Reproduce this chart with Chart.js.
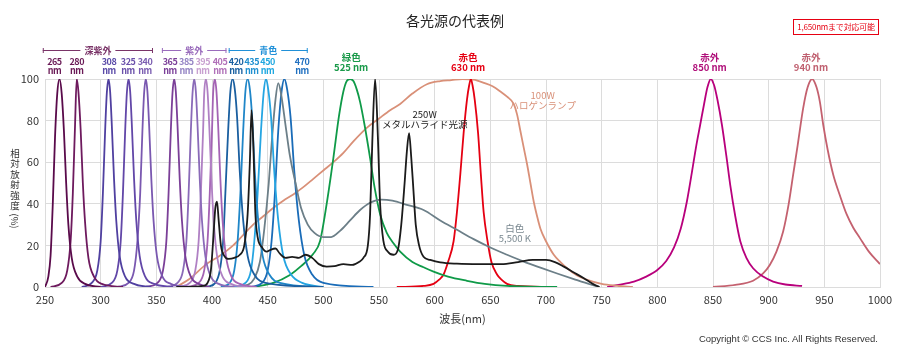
<!DOCTYPE html>
<html lang="ja">
<head>
<meta charset="utf-8">
<title>各光源の代表例</title>
<script src="https://cdn.jsdelivr.net/npm/chart.js@4.4.1/dist/chart.umd.min.js"></script>
<style>
  html, body { margin: 0; padding: 0; background: #fff; }
  #wrap { position: relative; width: 910px; height: 359px; font-family: "Noto Sans CJK JP", "Noto Sans", sans-serif; }
  #title { position: absolute; left: 0; top: 10px; width: 910px; text-align: center; font-size: 14px; color: #222; }
  #badge { position: absolute; left: 793px; top: 19px; width: 86px; height: 16px; box-sizing: border-box; white-space: nowrap;
           border: 1px solid #e60012; color: #e60012; font-size: 8px; line-height: 14px; text-align: center; letter-spacing: -0.2px; }
  #copy { position: absolute; right: 32px; top: 333px; font-family: "Liberation Sans", Arial, sans-serif; font-size: 9.5px; color: #333; }
  canvas { position: absolute; left: 0; top: 0; }
</style>
</head>
<body>
<div id="wrap">
  <canvas id="spectra" width="910" height="359"></canvas>
  <div id="title">各光源の代表例</div>
  <div id="badge">1,650nmまで対応可能</div>
  <div id="copy">Copyright © CCS Inc. All Rights Reserved.</div>
</div>
<script>
// spectra: [wavelength nm, relative intensity %]
const uv265 = [[250,0],[253,5],[255,15],[257,40],[259,72],[261,93],[263,100],[265,93],[267,75],[269,50],[271,30],[274,14],[279,5],[286,1.5],[300,0]];
const uv280 = [[255,0],[265,2],[270,8],[273,22],[275,45],[277,78],[278.5,100],[280,94],[282,76],[284,50],[286,31],[289,14],[294,5],[301,1.5],[320,0]];
const uv308 = [[283,0],[292,2],[297,8],[300,22],[302,45],[304,75],[305.5,93],[307,100],[308.5,94],[310,78],[312,52],[314,32],[317,15],[322,5],[330,1.5],[345,0]];
const uv325 = [[300,0],[310,2],[315,8],[318,22],[320,45],[322,75],[323.5,93],[325,100],[326.5,94],[328,78],[330,52],[332,32],[335,15],[340,5],[348,1.5],[365,0]];
const uv340 = [[315,0],[325,2],[330,8],[333,22],[335.5,45],[337.5,75],[339,93],[340.5,100],[342,94],[343.5,78],[345.5,52],[347.5,32],[350.5,15],[355.5,5],[363,1.5],[380,0]];
const uv365 = [[340,0],[351,2],[356,8],[359,22],[361,45],[363,75],[364.5,93],[366,100],[367.5,94],[369,78],[371,52],[373,32],[376,15],[381,5],[388,1.5],[398,0]];
const uv385 = [[360,0],[369,2],[374,8],[377,22],[379,45],[381,75],[382.5,93],[384,100],[385.5,94],[387,78],[389,52],[391,32],[394,15],[399,5],[406,1.5],[420,0]];
const uv395 = [[370,0],[380,2],[385,8],[388,22],[390,45],[392,75],[393,93],[394.5,100],[396,94],[397.5,78],[399.5,52],[401.5,32],[404.5,15],[409.5,5],[417,1.5],[430,0]];
const uv405 = [[378,0],[388,2],[393,8],[396,22],[398,45],[400,75],[401,93],[402.5,100],[404,94],[405.5,78],[407.5,52],[409.5,32],[412.5,15],[417.5,5],[425,1.5],[440,0]];
const blue420 = [[395,0],[403,2],[407,8],[410,22],[412,45],[414.5,75],[416.5,94],[418.5,100],[420.5,95],[422.5,82],[425,55],[428,32],[432,15],[438,6],[448,2],[500,0]];
const blue435 = [[408,0],[416,2],[420,8],[423,22],[425.5,45],[428,75],[430,94],[432,100],[434,95],[436,82],[438.5,55],[441.5,32],[445.5,15],[451.5,6],[461,2],[500,0]];
const blue450 = [[420,0],[430,2],[435,8],[438,22],[441,45],[444,75],[446.5,94],[448.5,100],[450.5,95],[453,82],[456,55],[459.5,32],[464,15],[471,6],[481,2],[500,0]];
const blue470 = [[435,0],[445,2],[450,8],[453.5,22],[456.5,45],[459.5,75],[462.5,94],[465,100],[467.5,95],[470.5,82],[474,55],[478,32],[483,15],[490,6],[500,2],[545,0]];
const white5500 = [[420,0],[432,1],[438,4],[443,12],[447,28],[451,50],[454,72],[457,90],[459.5,98],[462,93],[466,78],[470,63],[475,50],[480,38],[486,30],[492,26],[500,24],[507,24],[515,27],[524,32],[533,37],[542,40.5],[552,42],[562,41.5],[575,39.5],[590,37],[605,32],[620,27.5],[635,23],[650,19],[665,15.5],[680,12.2],[695,9.3],[710,6.5],[725,3.8],[740,1.2],[748,0]];
const metalHalide = [[368,0],[392,0.5],[396,2],[399,8],[401,22],[403,38],[404.5,41],[406,32],[408,20],[411,15],[415,13.5],[420,14],[425,15.5],[429,20],[432,35],[434,60],[435.5,85],[437,70],[439,35],[441,24],[445,19],[449,17],[453,18],[457,18.5],[461,16],[466,14],[472,14.5],[478,14],[484,15.5],[490,14],[496,11],[503,9.8],[510,10],[518,11],[526,10.6],[532,12],[536,14],[540,20],[542,35],[544,70],[546.5,100],[549,72],[551,40],[554,22],[558,17],[563,15.5],[567,18],[570,30],[573,50],[575,65],[577,74],[579,62],[581,46],[583,30],[586,20],[590,14.5],[596,13],[605,11.8],[620,11.2],[640,11],[660,11],[675,12],[688,13],[700,13],[708,12],[716,9.8],[725,7],[734,4.2],[742,1.5],[748,0]];
const halogen = [[368,0],[380,4],[395,11],[407,15],[419,20],[428,25],[437,30],[446,34],[455,38],[464,41.5],[473,44.5],[482,48],[491,52],[500,56],[509,60],[518,64.5],[527,70],[539,76.5],[550,81],[560,85],[569,88],[580,93],[593,97.5],[605,99],[615,99.5],[625,100],[635,99.7],[645,98],[652,96.5],[659,94],[665,91.5],[671,88],[674,83],[677,75],[680,67],[683,59],[686,50],[689,41],[692,34],[695,28],[700,22],[707,15.5],[713,12],[719,9],[728,5.5],[737,3.4],[750,1.5],[764,0.6],[778,0]];
const green525 = [[437,0],[455,2],[470,5.8],[480,10],[491,16],[497,22],[503,40],[509,62],[514,82],[518,94],[521,99],[524,100],[527,99],[530,95],[533,89],[537,78],[542,62],[546,48],[551,35],[557,26],[563,21],[569,17],[580,12],[590,9.5],[599,7.4],[612,5],[629,3],[645,1.5],[665,0.5],[710,0]];
const red630 = [[566,0],[590,0.5],[599,1.5],[604,3.5],[608,6],[612,12],[617,22],[620,36],[623,54],[626,74],[629,90],[631,97],[632.5,100],[634,97],[636,90],[639,74],[641.5,54],[644,36],[647.5,22],[651,12],[656,6],[660,3.5],[665,1.5],[675,0.5],[705,0]];
const ir850 = [[755,0],[765,1],[779,2.6],[790,5],[800,8.2],[808,12.5],[815,19],[821,28],[826.5,41],[831,55],[835,68],[838.5,78],[842,88],[845,96],[848,100],[851,97],[854,90],[858,78],[862,63],[865.5,49],[870,34],[874.5,22],[880,14],[886,9],[895,5],[904,2.6],[915,1.2],[930,0.5]];
const ir940 = [[850,0],[870,1],[886,3],[895,6.5],[901,10.6],[907,17],[913,26.7],[918,40],[922,54],[926,68],[931,86],[935,96],[939,100],[943,96],[946,89],[949,78],[953,66],[958,54],[964,44],[970,35],[976,28.5],[982,23.5],[990,17],[1000,11]];

// axis ticks
const xTicks = [250, 300, 350, 400, 450, 500, 550, 600, 650, 700, 750, 800, 850, 900, 950, 1000];
const yTicks = [0, 20, 40, 60, 80, 100];

// curve styles
const curves = [
  { name: '250W メタルハライド光源', data: metalHalide, color: '#1b1b1b' },
  { name: '265 nm', data: uv265, color: '#5a0b4b' },
  { name: '280 nm', data: uv280, color: '#6e1a5e' },
  { name: '308 nm', data: uv308, color: '#5040a0' },
  { name: '325 nm', data: uv325, color: '#6247a8' },
  { name: '340 nm', data: uv340, color: '#7a58b0' },
  { name: '365 nm', data: uv365, color: '#7b3f98' },
  { name: '385 nm', data: uv385, color: '#8a6ab8' },
  { name: '395 nm', data: uv395, color: '#b080c4' },
  { name: '405 nm', data: uv405, color: '#a463b4' },
  { name: '420 nm', data: blue420, color: '#1a5fa0' },
  { name: '435 nm', data: blue435, color: '#1f86c8' },
  { name: '450 nm', data: blue450, color: '#25a5e2' },
  { name: '白色 5,500 K', data: white5500, color: '#6c7f88' },
  { name: '470 nm', data: blue470, color: '#1a6cb8' },
  { name: '525 nm', data: green525, color: '#0f9a48' },
  { name: '630 nm', data: red630, color: '#e50012' },
  { name: '100W ハロゲンランプ', data: halogen, color: '#d99078' },
  { name: '850 nm', data: ir850, color: '#b8007c' },
  { name: '940 nm', data: ir940, color: '#c4616f' }
];

// labels above the plot: [x position in nm, first line, second line, colour]
const ledLabels = [
  [258.4, '265', 'nm', '#6a1a56'], [278.5, '280', 'nm', '#6a1a56'],
  [307.5, '308', 'nm', '#5a4aa8'], [324.6, '325', 'nm', '#6a50aa'], [339.8, '340', 'nm', '#7a5cb0'],
  [362.3, '365', 'nm', '#7a3e98'], [376.9, '385', 'nm', '#9484c4'], [391.7, '395', 'nm', '#c8a0d0'], [407.2, '405', 'nm', '#b070b8'],
  [421.6, '420', 'nm', '#1a60a0'], [435.7, '435', 'nm', '#2090d0'], [449.9, '450', 'nm', '#20a8e0'], [480.9, '470', 'nm', '#2070c0']
];
const groupBands = [
  [248, 347, '深紫外', '#7a3468'],
  [355, 413, '紫外', '#9a6cbc'],
  [415, 486, '青色', '#2090d8']
];
const peakLabels = [
  [525, '緑色', '525 nm', '#1a9a4a'],
  [630, '赤色', '630 nm', '#e60012'],
  [847, '赤外', '850 nm', '#b0107a'],
  [938, '赤外', '940 nm', '#c06070']
];
// notes inside the plot: [nm, %, first line, second line, colour]
const curveNotes = [
  [591, 83, '250W', 'メタルハライド光源', '#1b1b1b'],
  [697, 92, '100W', 'ハロゲンランプ', '#d89078'],
  [672, 28, '白色', '5,500 K', '#7a8890']
];
const yTitleChars = ['相', '対', '放', '射', '強', '度'];

const FONT = '"Noto Sans CJK JP", "Noto Sans", sans-serif';

// draws the labels, brackets and vertical axis title
const annotate = {
  id: 'annotate',
  afterDraw(chart) {
    const ctx = chart.ctx;
    const xs = chart.scales.x, ys = chart.scales.y;
    ctx.save();
    ctx.textAlign = 'center';
    ctx.textBaseline = 'middle';

    ctx.font = 'bold 9px ' + FONT;
    groupBands.forEach(([from, to, text, color]) => {
      const x1 = xs.getPixelForValue(from), x2 = xs.getPixelForValue(to);
      const mid = (x1 + x2) / 2, y = 50.5;
      const half = ctx.measureText(text).width / 2 + 4;
      ctx.strokeStyle = color;
      ctx.fillStyle = color;
      ctx.lineWidth = 1;
      ctx.beginPath();
      ctx.moveTo(x1, y); ctx.lineTo(mid - half, y);
      ctx.moveTo(mid + half, y); ctx.lineTo(x2, y);
      ctx.moveTo(x1 + 0.5, y - 2.5); ctx.lineTo(x1 + 0.5, y + 2.5);
      ctx.moveTo(x2 - 0.5, y - 2.5); ctx.lineTo(x2 - 0.5, y + 2.5);
      ctx.stroke();
      ctx.fillText(text, mid, y);
    });

    ctx.font = 'bold 9px ' + FONT;
    ctx.letterSpacing = '-0.5px';
    ledLabels.forEach(([nm, top, bottom, color]) => {
      const x = xs.getPixelForValue(nm);
      ctx.fillStyle = color;
      ctx.fillText(top, x, 62);
      ctx.fillText(bottom, x, 71);
    });
    ctx.letterSpacing = '0px';

    ctx.font = 'bold 9.5px ' + FONT;
    peakLabels.forEach(([nm, top, bottom, color]) => {
      const x = xs.getPixelForValue(nm);
      ctx.fillStyle = color;
      ctx.fillText(top, x, 57);
      ctx.fillText(bottom, x, 67);
    });

    ctx.font = '9.5px ' + FONT;
    curveNotes.forEach(([nm, v, top, bottom, color]) => {
      const x = xs.getPixelForValue(nm), y = ys.getPixelForValue(v);
      ctx.fillStyle = color;
      ctx.fillText(top, x, y);
      ctx.fillText(bottom, x, y + 10);
    });

    // vertical y-axis title
    ctx.fillStyle = '#333';
    ctx.font = '9.5px ' + FONT;
    yTitleChars.forEach((ch, i) => ctx.fillText(ch, 15, 153 + i * 10.5));
    ctx.translate(15, 221);
    ctx.rotate(Math.PI / 2);
    ctx.fillText('(%)', 0, 0);
    ctx.restore();
  }
};

const ctx = document.getElementById('spectra').getContext('2d');
const spectraChart = new Chart(ctx, {
  type: 'line',
  data: {
    datasets: curves.map(c => ({
      label: c.name,
      data: c.data.map(([x, y]) => ({ x: x, y: y })),
      borderColor: c.color,
      backgroundColor: c.color,
      borderWidth: 1.8,
      pointRadius: 0,
      fill: false,
      cubicInterpolationMode: 'monotone'
    }))
  },
  options: {
    responsive: false,
    animation: false,
    events: [],
    layout: { padding: { top: 79, left: 0, right: 30, bottom: 32 } },
    plugins: { legend: { display: false }, tooltip: { enabled: false } },
    scales: {
      x: {
        type: 'linear',
        min: 250,
        max: 1000,
        afterBuildTicks: scale => { scale.ticks = xTicks.map(v => ({ value: v })); },
        afterFit: scale => { scale.height = 40; },
        grid: { color: '#dcdcdc', lineWidth: 1, drawTicks: false },
        border: { color: '#dcdcdc' },
        ticks: { padding: 6, color: '#333', font: { family: FONT, size: 11 }, maxRotation: 0, callback: v => String(v) },
        title: { display: true, text: '波長(nm)', color: '#333', padding: { top: 2, bottom: 2 }, font: { family: FONT, size: 11 } }
      },
      y: {
        min: 0,
        max: 100,
        afterBuildTicks: scale => { scale.ticks = yTicks.map(v => ({ value: v })); },
        afterFit: scale => { scale.width = 45; },
        grid: { color: '#dcdcdc', lineWidth: 1, drawTicks: false },
        border: { color: '#dcdcdc' },
        ticks: { padding: 6, color: '#333', font: { family: FONT, size: 11 }, callback: v => String(v) }
      }
    }
  },
  plugins: [annotate]
});
</script>
</body>
</html>
